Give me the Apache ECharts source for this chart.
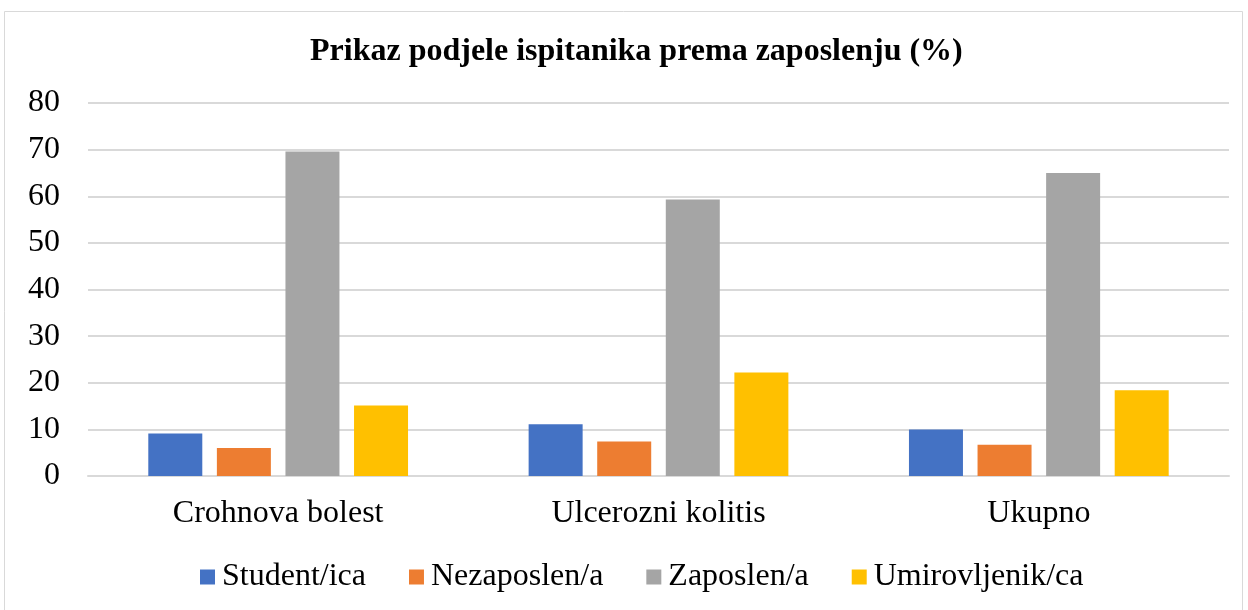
<!DOCTYPE html>
<html>
<head>
<meta charset="utf-8">
<script src="https://cdn.jsdelivr.net/npm/echarts@6/dist/echarts.min.js"></script>
<style>
html,body{margin:0;padding:0;background:#fff;}
#chart{width:1248px;height:610px;}
</style>
</head>
<body>
<div id="chart"></div>
<script>
const categories = ['Crohnova bolest', 'Ulcerozni kolitis', 'Ukupno'];
const seriesNames = ['Student/ica', 'Nezaposlen/a', 'Zaposlen/a', 'Umirovljenik/ca'];
const student = [9.1, 11.1, 10.0];
const nezaposlen = [6.0, 7.4, 6.7];
const zaposlen = [69.6, 59.3, 65.0];
const umirovljenik = [15.1, 22.2, 18.4];
const colors = ['#4472C4', '#ED7D31', '#A5A5A5', '#FFC000'];
const values = [student, nezaposlen, zaposlen, umirovljenik];

const font = '"Liberation Serif", "Times New Roman", serif';
const chart = echarts.init(document.getElementById('chart'));
chart.setOption({
  animation: false,
  backgroundColor: '#fff',
  graphic: [{
    type: 'rect',
    shape: {x: 4.5, y: 11.5, width: 1238, height: 620},
    style: {fill: 'none', stroke: '#d9d9d9', lineWidth: 1},
    silent: true
  }],
  title: {
    text: 'Prikaz podjele ispitanika prema zaposlenju (%)',
    left: 305,
    top: 31,
    textStyle: {fontFamily: font, fontWeight: 'bold', fontSize: 32, color: '#000'}
  },
  legend: {
    data: seriesNames,
    top: 556,
    left: 195,
    itemWidth: 15,
    itemHeight: 15,
    itemGap: 43,
    icon: 'rect',
    textStyle: {fontFamily: font, fontSize: 32, color: '#000', padding: [0, 0, 0, 2]}
  },
  grid: {left: 88, right: 19, top: 103, bottom: 134, containLabel: false},
  xAxis: {
    type: 'category',
    data: categories,
    axisLine: {lineStyle: {color: '#d9d9d9', width: 2}},
    axisTick: {show: false},
    axisLabel: {fontFamily: font, fontSize: 32, color: '#000', margin: 22}
  },
  yAxis: {
    type: 'value',
    min: 0, max: 80, interval: 10,
    axisLine: {show: false},
    axisTick: {show: false},
    splitLine: {lineStyle: {color: '#d9d9d9', width: 2}},
    axisLabel: {fontFamily: font, fontSize: 32, color: '#000', margin: 28}
  },
  series: seriesNames.map((n, i) => ({
    name: n,
    type: 'bar',
    data: values[i],
    barWidth: 54,
    barGap: '27%',
    itemStyle: {color: colors[i]}
  }))
});
</script>
</body>
</html>
